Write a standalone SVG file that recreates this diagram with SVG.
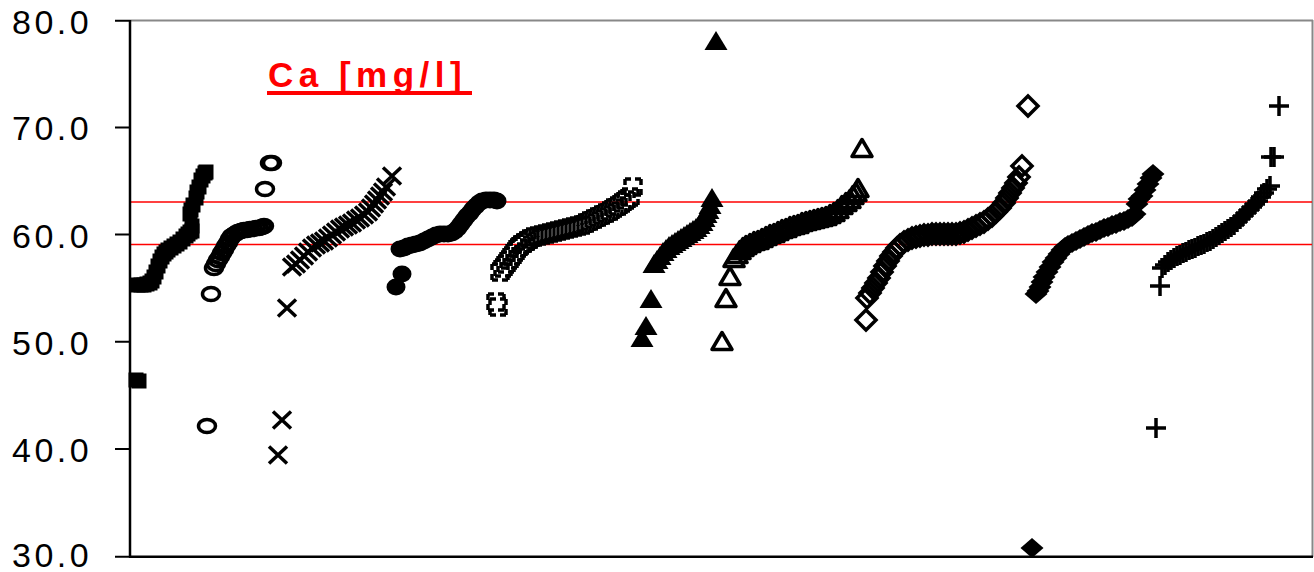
<svg xmlns="http://www.w3.org/2000/svg" xmlns:xlink="http://www.w3.org/1999/xlink" width="1314" height="572" viewBox="0 0 1314 572">
<style>
.lbl{font-family:"Liberation Sans",Arial,sans-serif;font-size:34px;letter-spacing:3.5px;fill:#000}
.ttl{font-family:"Liberation Sans",Arial,sans-serif;font-size:35px;font-weight:bold;letter-spacing:5.5px;fill:#ff0000}
.stk{stroke:#000;stroke-width:3.5;fill:none}
.fil{fill:#000}
</style>
<defs>
<rect id="sqF" class="fil" x="-7.5" y="-7.5" width="15" height="15"/>
<ellipse id="circO" stroke="#000" stroke-width="3.5" fill="none" cx="0" cy="0" rx="8.5" ry="6.5"/>
<path id="xM" class="stk" d="M-9,-8.5 L9,8.5 M-9,8.5 L9,-8.5"/>
<ellipse id="circF" class="fil" rx="9.5" ry="8.5"/>
<rect id="sqO" class="stk" x="-8" y="-8" width="16" height="16" stroke-dasharray="6 4 6 0"/>
<path id="triF" class="fil" d="M0,-10 L11.5,9 L-11.5,9 Z"/>
<path id="triO" class="stk" stroke-linejoin="round" d="M0,-8.5 L10,8.5 L-10,8.5 Z"/>
<path id="diaO" class="stk" d="M0,-10 L10,0 L0,10 L-10,0 Z"/>
<path id="diaF" class="fil" d="M0,-10 L11.5,0 L0,10 L-11.5,0 Z"/>
<path id="plus" class="stk" d="M-10,0 H10 M0,-10 V10"/>
</defs>
<rect x="0" y="0" width="1314" height="572" fill="#fff"/>
<g id="frame">
<line x1="130" y1="20.5" x2="1313" y2="20.5" stroke="#888" stroke-width="2"/>
<line x1="1312.5" y1="20" x2="1312.5" y2="557" stroke="#888" stroke-width="2"/>
<line x1="130" y1="202" x2="1312" y2="202" stroke="#ff0000" stroke-width="1.5"/>
<line x1="130" y1="244.5" x2="1312" y2="244.5" stroke="#ff0000" stroke-width="1.5"/>
<line x1="130" y1="20" x2="130" y2="557.5" stroke="#000" stroke-width="2.5"/>
<line x1="129" y1="556.7" x2="1313" y2="556.7" stroke="#000" stroke-width="2.5"/>
<path d="M115,20.7 H130 M115,127.4 H130 M115,234.6 H130 M115,341.8 H130 M115,449 H130 M115,556.7 H130" stroke="#000" stroke-width="2"/>
</g>
<g id="labels">
<text class="lbl" x="12" y="33.5">80.0</text>
<text class="lbl" x="12" y="140.3">70.0</text>
<text class="lbl" x="12" y="247.5">60.0</text>
<text class="lbl" x="12" y="354.5">50.0</text>
<text class="lbl" x="12" y="461.8">40.0</text>
<text class="lbl" x="12" y="567">30.0</text>
</g>
<g id="title">
<text class="ttl" x="268" y="87">Ca [mg/l]</text>
<rect x="267" y="91" width="205" height="4" fill="#ff0000"/>
</g>
<g id="series-1">
<use href="#sqF" x="136" y="380"/><use href="#sqF" x="139" y="381"/>
<use href="#sqF" x="138" y="285"/><use href="#sqF" x="141" y="285"/><use href="#sqF" x="144" y="285"/><use href="#sqF" x="147" y="284"/><use href="#sqF" x="150" y="283"/><use href="#sqF" x="152" y="281"/><use href="#sqF" x="154" y="277"/><use href="#sqF" x="156" y="272"/><use href="#sqF" x="158" y="266"/><use href="#sqF" x="160" y="261"/><use href="#sqF" x="162" y="257"/><use href="#sqF" x="164" y="254"/><use href="#sqF" x="166" y="252"/><use href="#sqF" x="168" y="250"/><use href="#sqF" x="171" y="248"/><use href="#sqF" x="174" y="246"/><use href="#sqF" x="177" y="244"/><use href="#sqF" x="180" y="242"/><use href="#sqF" x="183" y="239"/><use href="#sqF" x="186" y="236"/><use href="#sqF" x="188" y="234"/><use href="#sqF" x="190" y="232"/><use href="#sqF" x="192" y="231"/><use href="#sqF" x="192" y="226"/>
<use href="#sqF" x="190" y="214"/><use href="#sqF" x="191" y="210"/><use href="#sqF" x="193" y="205"/><use href="#sqF" x="196" y="198"/><use href="#sqF" x="197" y="192"/><use href="#sqF" x="199" y="187"/><use href="#sqF" x="201" y="180"/><use href="#sqF" x="203" y="176"/><use href="#sqF" x="205" y="173"/><use href="#sqF" x="206" y="172"/>
</g>
<g id="series-2">
<use href="#circO" x="207" y="426"/><use href="#circO" x="211" y="294"/>
<use href="#circO" x="214" y="268"/><use href="#circO" x="216" y="264"/><use href="#circO" x="218" y="260"/><use href="#circO" x="220" y="257"/><use href="#circO" x="222" y="253"/><use href="#circO" x="224" y="250"/><use href="#circO" x="226" y="246"/><use href="#circO" x="228" y="243"/><use href="#circO" x="230" y="239"/><use href="#circO" x="232" y="236"/><use href="#circO" x="235" y="234"/><use href="#circO" x="238" y="232"/><use href="#circO" x="241" y="231"/><use href="#circO" x="244" y="230"/><use href="#circO" x="247" y="230"/><use href="#circO" x="250" y="229"/><use href="#circO" x="253" y="229"/><use href="#circO" x="256" y="228"/><use href="#circO" x="259" y="228"/><use href="#circO" x="262" y="227"/><use href="#circO" x="264" y="226"/>
<use href="#circO" x="265" y="189"/><use href="#circO" x="270" y="163"/><use href="#circO" x="272" y="163"/>
</g>
<g id="series-3">
<use href="#xM" x="278" y="455"/><use href="#xM" x="282" y="420"/><use href="#xM" x="287" y="308"/>
<use href="#xM" x="292" y="267"/><use href="#xM" x="296" y="264"/><use href="#xM" x="300" y="260"/><use href="#xM" x="304" y="256"/><use href="#xM" x="308" y="252"/><use href="#xM" x="312" y="248"/><use href="#xM" x="316" y="245"/><use href="#xM" x="320" y="243"/><use href="#xM" x="324" y="241"/><use href="#xM" x="328" y="238"/><use href="#xM" x="332" y="235"/><use href="#xM" x="336" y="232"/><use href="#xM" x="340" y="229"/><use href="#xM" x="344" y="227"/><use href="#xM" x="348" y="225"/><use href="#xM" x="352" y="223"/><use href="#xM" x="356" y="220"/><use href="#xM" x="360" y="218"/><use href="#xM" x="364" y="215"/><use href="#xM" x="368" y="212"/><use href="#xM" x="371" y="208"/><use href="#xM" x="374" y="204"/><use href="#xM" x="377" y="200"/><use href="#xM" x="380" y="196"/><use href="#xM" x="383" y="192"/><use href="#xM" x="386" y="187"/><use href="#xM" x="392" y="176"/>
</g>
<g id="series-4">
<use href="#circF" x="396" y="287"/><use href="#circF" x="402" y="274"/>
<use href="#circF" x="400" y="249"/><use href="#circF" x="404" y="248"/><use href="#circF" x="408" y="246"/><use href="#circF" x="412" y="245"/><use href="#circF" x="416" y="244"/><use href="#circF" x="420" y="243"/><use href="#circF" x="424" y="241"/><use href="#circF" x="428" y="239"/><use href="#circF" x="432" y="237"/><use href="#circF" x="436" y="235"/><use href="#circF" x="440" y="234"/><use href="#circF" x="444" y="234"/><use href="#circF" x="448" y="234"/><use href="#circF" x="452" y="233"/><use href="#circF" x="455" y="231"/><use href="#circF" x="458" y="228"/><use href="#circF" x="461" y="224"/><use href="#circF" x="464" y="220"/><use href="#circF" x="467" y="216"/><use href="#circF" x="470" y="213"/><use href="#circF" x="473" y="209"/><use href="#circF" x="476" y="206"/><use href="#circF" x="479" y="203"/><use href="#circF" x="482" y="201"/><use href="#circF" x="486" y="200"/><use href="#circF" x="490" y="200"/><use href="#circF" x="494" y="200"/><use href="#circF" x="497" y="201"/>
</g>
<g id="series-5">
<use href="#sqO" x="496" y="302"/><use href="#sqO" x="498" y="307"/>
<use href="#sqO" x="500" y="272"/><use href="#sqO" x="503" y="268"/><use href="#sqO" x="506" y="264"/><use href="#sqO" x="509" y="260"/><use href="#sqO" x="512" y="256"/><use href="#sqO" x="515" y="252"/><use href="#sqO" x="518" y="248"/><use href="#sqO" x="521" y="245"/><use href="#sqO" x="524" y="243"/><use href="#sqO" x="527" y="241"/><use href="#sqO" x="530" y="239"/><use href="#sqO" x="534" y="237"/><use href="#sqO" x="538" y="236"/><use href="#sqO" x="542" y="235"/><use href="#sqO" x="546" y="234"/><use href="#sqO" x="550" y="233"/><use href="#sqO" x="554" y="232"/><use href="#sqO" x="558" y="231"/><use href="#sqO" x="562" y="230"/><use href="#sqO" x="566" y="229"/><use href="#sqO" x="570" y="228"/><use href="#sqO" x="574" y="227"/><use href="#sqO" x="578" y="226"/><use href="#sqO" x="582" y="225"/><use href="#sqO" x="586" y="223"/><use href="#sqO" x="590" y="221"/><use href="#sqO" x="594" y="219"/><use href="#sqO" x="598" y="217"/><use href="#sqO" x="602" y="215"/><use href="#sqO" x="606" y="213"/><use href="#sqO" x="610" y="211"/><use href="#sqO" x="614" y="208"/><use href="#sqO" x="618" y="206"/><use href="#sqO" x="622" y="203"/><use href="#sqO" x="626" y="200"/><use href="#sqO" x="630" y="197"/><use href="#sqO" x="633" y="187"/>
</g>
<g id="series-6">
<use href="#triF" x="716" y="41"/><use href="#triF" x="642" y="338"/><use href="#triF" x="646" y="326"/><use href="#triF" x="651" y="299"/>
<use href="#triF" x="654" y="264"/><use href="#triF" x="657" y="260"/><use href="#triF" x="660" y="256"/><use href="#triF" x="663" y="252"/><use href="#triF" x="666" y="249"/><use href="#triF" x="669" y="246"/><use href="#triF" x="672" y="244"/><use href="#triF" x="675" y="242"/><use href="#triF" x="678" y="240"/><use href="#triF" x="681" y="238"/><use href="#triF" x="684" y="236"/><use href="#triF" x="687" y="234"/><use href="#triF" x="690" y="232"/><use href="#triF" x="693" y="230"/><use href="#triF" x="696" y="228"/><use href="#triF" x="699" y="225"/><use href="#triF" x="702" y="222"/><use href="#triF" x="704" y="218"/><use href="#triF" x="706" y="214"/><use href="#triF" x="708" y="210"/><use href="#triF" x="710" y="205"/><use href="#triF" x="712" y="198"/>
</g>
<g id="series-7">
<use href="#triO" x="722" y="341"/><use href="#triO" x="726" y="298"/><use href="#triO" x="730" y="276"/>
<use href="#triO" x="734" y="258"/><use href="#triO" x="737" y="254"/><use href="#triO" x="740" y="250"/><use href="#triO" x="743" y="247"/><use href="#triO" x="746" y="245"/><use href="#triO" x="750" y="243"/><use href="#triO" x="754" y="241"/><use href="#triO" x="758" y="240"/><use href="#triO" x="762" y="238"/><use href="#triO" x="766" y="236"/><use href="#triO" x="770" y="234"/><use href="#triO" x="774" y="233"/><use href="#triO" x="778" y="231"/><use href="#triO" x="782" y="229"/><use href="#triO" x="786" y="228"/><use href="#triO" x="790" y="226"/><use href="#triO" x="794" y="225"/><use href="#triO" x="798" y="224"/><use href="#triO" x="802" y="222"/><use href="#triO" x="806" y="221"/><use href="#triO" x="810" y="220"/><use href="#triO" x="814" y="219"/><use href="#triO" x="818" y="218"/><use href="#triO" x="822" y="217"/><use href="#triO" x="826" y="216"/><use href="#triO" x="830" y="214"/><use href="#triO" x="834" y="212"/><use href="#triO" x="838" y="209"/><use href="#triO" x="842" y="205"/><use href="#triO" x="846" y="202"/><use href="#triO" x="850" y="199"/><use href="#triO" x="853" y="195"/><use href="#triO" x="856" y="192"/><use href="#triO" x="858" y="188"/><use href="#triO" x="862" y="148"/>
</g>
<g id="series-8">
<use href="#diaO" x="866" y="320"/>
<use href="#diaO" x="867" y="298"/><use href="#diaO" x="870" y="293"/><use href="#diaO" x="873" y="288"/><use href="#diaO" x="876" y="283"/><use href="#diaO" x="879" y="278"/><use href="#diaO" x="882" y="272"/><use href="#diaO" x="885" y="266"/><use href="#diaO" x="888" y="261"/><use href="#diaO" x="891" y="256"/><use href="#diaO" x="894" y="252"/><use href="#diaO" x="897" y="248"/><use href="#diaO" x="900" y="245"/><use href="#diaO" x="904" y="242"/><use href="#diaO" x="908" y="240"/><use href="#diaO" x="912" y="238"/><use href="#diaO" x="916" y="237"/><use href="#diaO" x="920" y="236"/><use href="#diaO" x="924" y="235"/><use href="#diaO" x="928" y="235"/><use href="#diaO" x="932" y="234"/><use href="#diaO" x="936" y="234"/><use href="#diaO" x="940" y="234"/><use href="#diaO" x="944" y="234"/><use href="#diaO" x="948" y="234"/><use href="#diaO" x="952" y="234"/><use href="#diaO" x="956" y="234"/><use href="#diaO" x="960" y="233"/><use href="#diaO" x="964" y="232"/><use href="#diaO" x="968" y="230"/><use href="#diaO" x="972" y="228"/><use href="#diaO" x="976" y="226"/><use href="#diaO" x="980" y="224"/><use href="#diaO" x="984" y="222"/><use href="#diaO" x="988" y="219"/><use href="#diaO" x="992" y="216"/><use href="#diaO" x="996" y="212"/><use href="#diaO" x="1000" y="208"/><use href="#diaO" x="1004" y="203"/><use href="#diaO" x="1007" y="198"/><use href="#diaO" x="1010" y="193"/><use href="#diaO" x="1013" y="188"/><use href="#diaO" x="1016" y="183"/><use href="#diaO" x="1019" y="177"/><use href="#diaO" x="1022" y="166"/><use href="#diaO" x="1028" y="106"/>
</g>
<g id="series-9">
<use href="#diaF" x="1032" y="548"/>
<use href="#diaF" x="1036" y="294"/><use href="#diaF" x="1038" y="291"/><use href="#diaF" x="1040" y="287"/><use href="#diaF" x="1042" y="282"/><use href="#diaF" x="1044" y="277"/><use href="#diaF" x="1047" y="272"/><use href="#diaF" x="1050" y="267"/><use href="#diaF" x="1053" y="262"/><use href="#diaF" x="1056" y="258"/><use href="#diaF" x="1059" y="254"/><use href="#diaF" x="1062" y="250"/><use href="#diaF" x="1065" y="247"/><use href="#diaF" x="1068" y="245"/><use href="#diaF" x="1072" y="243"/><use href="#diaF" x="1076" y="241"/><use href="#diaF" x="1080" y="239"/><use href="#diaF" x="1084" y="237"/><use href="#diaF" x="1088" y="235"/><use href="#diaF" x="1092" y="233"/><use href="#diaF" x="1096" y="232"/><use href="#diaF" x="1100" y="230"/><use href="#diaF" x="1104" y="228"/><use href="#diaF" x="1108" y="227"/><use href="#diaF" x="1112" y="225"/><use href="#diaF" x="1116" y="224"/><use href="#diaF" x="1120" y="222"/><use href="#diaF" x="1124" y="221"/><use href="#diaF" x="1128" y="219"/><use href="#diaF" x="1132" y="217"/><use href="#diaF" x="1135" y="214"/><use href="#diaF" x="1137" y="204"/><use href="#diaF" x="1139" y="199"/><use href="#diaF" x="1142" y="196"/><use href="#diaF" x="1145" y="190"/><use href="#diaF" x="1148" y="184"/><use href="#diaF" x="1151" y="178"/><use href="#diaF" x="1153" y="174"/>
</g>
<g id="series-10">
<use href="#plus" x="1156" y="428"/><use href="#plus" x="1160" y="286"/>
<use href="#plus" x="1162" y="268"/><use href="#plus" x="1165" y="265"/><use href="#plus" x="1168" y="262"/><use href="#plus" x="1171" y="260"/><use href="#plus" x="1174" y="258"/><use href="#plus" x="1177" y="256"/><use href="#plus" x="1180" y="255"/><use href="#plus" x="1183" y="253"/><use href="#plus" x="1186" y="252"/><use href="#plus" x="1189" y="250"/><use href="#plus" x="1192" y="249"/><use href="#plus" x="1195" y="248"/><use href="#plus" x="1198" y="246"/><use href="#plus" x="1201" y="245"/><use href="#plus" x="1204" y="244"/><use href="#plus" x="1207" y="242"/><use href="#plus" x="1210" y="241"/><use href="#plus" x="1213" y="239"/><use href="#plus" x="1216" y="237"/><use href="#plus" x="1219" y="235"/><use href="#plus" x="1222" y="233"/><use href="#plus" x="1225" y="231"/><use href="#plus" x="1228" y="229"/><use href="#plus" x="1231" y="227"/><use href="#plus" x="1234" y="225"/><use href="#plus" x="1237" y="222"/><use href="#plus" x="1240" y="219"/><use href="#plus" x="1243" y="216"/><use href="#plus" x="1246" y="213"/><use href="#plus" x="1249" y="210"/><use href="#plus" x="1252" y="207"/><use href="#plus" x="1255" y="204"/><use href="#plus" x="1258" y="201"/><use href="#plus" x="1261" y="197"/><use href="#plus" x="1264" y="193"/><use href="#plus" x="1267" y="189"/><use href="#plus" x="1270" y="186"/><use href="#plus" x="1271" y="157"/><use href="#plus" x="1274" y="157"/><use href="#plus" x="1279" y="106"/>
</g>
</svg>
